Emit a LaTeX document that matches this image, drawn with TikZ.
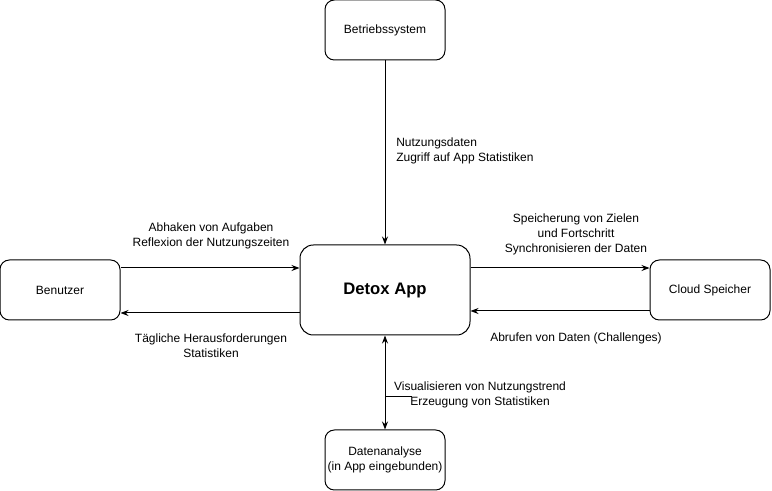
\documentclass[tikz,border=0pt]{standalone}
\usepackage{fontspec}
\setmainfont{Liberation Sans}
\usetikzlibrary{arrows.meta}
\begin{document}
\begin{tikzpicture}[x=0.75pt,y=-0.75pt,
  box/.style={draw,line width=0.75pt,rounded corners=7pt,minimum width=90pt,minimum height=45pt,inner sep=0pt,font=\fontsize{9}{11.25}\selectfont},
  bigbox/.style={draw,line width=0.75pt,rounded corners=10pt,minimum width=127.5pt,minimum height=67.5pt,inner sep=0pt,font=\fontsize{12.5}{15}\selectfont\bfseries},
  conn/.style={line width=0.75pt,-{Stealth[length=6pt,width=4.5pt]}},
  lbl/.style={font=\fontsize{9}{11.25}\selectfont,align=center,inner sep=0pt}
]
\useasboundingbox (0,0) rectangle (772,491);
\node[box] (os) at (385,30) {Betriebssystem};
\node[bigbox] (app) at (385,290) {Detox App};
\node[box] (user) at (60,290) {Benutzer};
\node[box] (cloud) at (710,290) {Cloud Speicher};
\node[box,align=center] (ana) at (385,460) {Datenanalyse\\(in App eingebunden)};

\draw[conn] (os.south) -- (app.north);
\draw[conn] (user.east|-0,268) coordinate (u1) -- (app.west|-0,268);
\draw[conn] (app.west|-0,313) -- (user.east|-0,313);
\draw[conn] (app.east|-0,268) -- (cloud.west|-0,268);
\draw[conn] (cloud.west|-0,311) -- (app.east|-0,311);
\draw[line width=0.75pt,{Stealth[length=6pt,width=4.5pt]}-{Stealth[length=6pt,width=4.5pt]}] (app.south) -- (ana.north);
\coordinate (s1) at (385,396);
\coordinate (s2) at (412,396);
\draw[line width=0.5pt] (s1) -- (s2);

\node[lbl,align=left,anchor=west] (l1) at (396,151) {Nutzungsdaten\\Zugriff auf App Statistiken};
\node[lbl] (l2) at (211,236) {Abhaken von Aufgaben\\Reflexion der Nutzungszeiten};
\node[lbl] (l3) at (211,346) {Tägliche Herausforderungen\\Statistiken};
\node[lbl] (l4) at (576,234) {Speicherung von Zielen\\und Fortschritt\\Synchronisieren der Daten};
\node[lbl] (l5) at (576,338) {Abrufen von Daten (Challenges)};
\node[lbl] (l6) at (480,395) {Visualisieren von Nutzungstrend\\Erzeugung von Statistiken};
\end{tikzpicture}
\end{document}
